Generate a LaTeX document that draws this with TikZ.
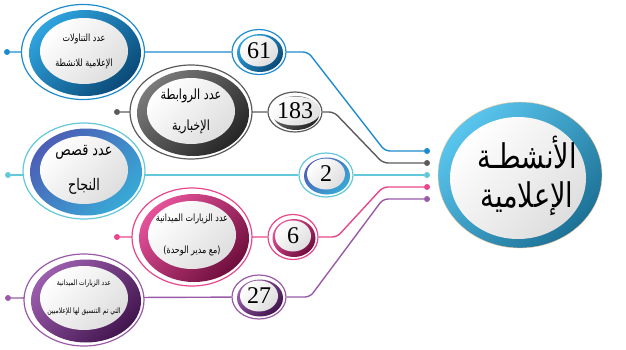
\documentclass[tikz,border=0pt]{standalone}
\usepackage{fontspec}
\setmainfont{Liberation Serif}
\newfontfamily\arabicfont[Script=Arabic, FakeStretch=0.8]{DejaVu Sans}
\TeXXeTstate=1
\usetikzlibrary{shapes.geometric,backgrounds}
\definecolor{blueA}{HTML}{1E8BCF}
\definecolor{blueB}{HTML}{2FA3DE}
\definecolor{blueC}{HTML}{0A4A78}
\definecolor{grayA}{HTML}{5E5A5C}
\definecolor{grayB}{HTML}{7A7A7A}
\definecolor{grayC}{HTML}{262626}
\definecolor{tealA}{HTML}{63C8DA}
\definecolor{tealB}{HTML}{4C5FB6}
\definecolor{tealC}{HTML}{38A9D6}
\definecolor{pinkA}{HTML}{E9468B}
\definecolor{pinkB}{HTML}{E5529A}
\definecolor{pinkC}{HTML}{6E0E3C}
\definecolor{purpA}{HTML}{9A5AA8}
\definecolor{purpB}{HTML}{9C5EAE}
\definecolor{purpC}{HTML}{42154E}
\definecolor{mainA}{HTML}{5AC6EE}
\definecolor{mainB}{HTML}{1D7196}
\tikzset{
  outring/.style={ellipse, draw=#1, line width=1.2pt, fill=white, inner sep=0pt},
  colring/.style 2 args={ellipse, top color=#1, bottom color=#2, shading angle=45, inner sep=0pt},
  whitecore/.style={ellipse, top color=white, bottom color=black!13, shading angle=45, inner sep=0pt},
  label/.style={align=center, inner sep=0pt},
  enddot/.style={circle, fill=#1, inner sep=0pt, minimum size=6pt},
  wire/.style={draw=#1, line width=1.4pt, rounded corners=5pt},
  num/.style={font=\fontsize{24}{24}\selectfont},
}
\begin{document}
\begin{tikzpicture}[x=1pt, y=-1pt]
\useasboundingbox (0,0) rectangle (626,349);

% main bubble
\node[ellipse, draw=orange!40, line width=0.4pt, top color=mainA, bottom color=mainB, shading angle=45, minimum width=164pt, minimum height=146pt] (m) at (520,175) {};
\node[whitecore, minimum width=136pt, minimum height=122pt] (mc) at (518,178) {};
\node[label, font=\arabicfont\fontsize{34}{39}\selectfont] (mt) at (527,176) {\beginR الأنشطـة\endR\\\beginR الإعلامية\endR};

% blue
\node[outring=blueA, minimum width=123pt, minimum height=95pt] (b1) at (83,52) {};
\node[colring={blueB}{blueC}, minimum width=112pt, minimum height=86pt] (b1r) at (85,53) {};
\node[whitecore, minimum width=88pt, minimum height=66pt] (b1c) at (84,51) {};
\node[label, font=\arabicfont\fontsize{10}{25}\selectfont] (b1t) at (b1c) {\beginR عدد التناولات\endR\\\beginR الإعلامية للانشطة\endR};
\node[outring=blueA, minimum width=54pt, minimum height=45pt] (n1) at (259,52) {};
\node[colring={blueB}{blueC}, minimum width=46pt, minimum height=38pt] (n1r) at (260,53) {};
\node[whitecore, minimum width=38pt, minimum height=31pt, num] (n1t) at (259,51) {61};
\node[enddot=blueA] (d1) at (7,52) {};
\node[enddot=blueA] (e1) at (427,151) {};

% gray
\node[outring=grayA, minimum width=122pt, minimum height=94pt] (b2) at (191,112) {};
\node[colring={grayB}{grayC}, minimum width=112pt, minimum height=86pt] (b2r) at (193,113) {};
\node[whitecore, minimum width=88pt, minimum height=66pt] (b2c) at (191,111) {};
\node[label, font=\arabicfont\fontsize{14}{31}\selectfont] (b2t) at (b2c) {\beginR عدد الروابطة\endR\\\beginR الإخبارية\endR};
\node[outring=grayA, minimum width=54pt, minimum height=40pt] (n2) at (295,112) {};
\node[colring={grayB}{grayC}, minimum width=47pt, minimum height=34pt] (n2r) at (296,113) {};
\node[whitecore, minimum width=42pt, minimum height=29pt, num] (n2t) at (295,111) {183};
\node[enddot=grayA] (d2) at (117,112) {};
\node[enddot=grayA] (e2) at (427,163) {};

% teal
\node[outring=tealA, minimum width=122pt, minimum height=96pt] (b3) at (84,171) {};
\node[colring={tealB}{tealC}, minimum width=112pt, minimum height=87pt] (b3r) at (86,172) {};
\node[whitecore, minimum width=88pt, minimum height=68pt] (b3c) at (84,170) {};
\node[label, font=\arabicfont\fontsize{16}{35}\selectfont] (b3t) at (b3c) {\beginR عدد قصص\endR\\\beginR النجاح\endR};
\node[outring=tealA, minimum width=54pt, minimum height=44pt] (n3) at (326,175) {};
\node[colring={tealB}{tealC}, minimum width=46pt, minimum height=37pt] (n3r) at (327,176) {};
\node[whitecore, minimum width=38pt, minimum height=31pt, num] (n3t) at (326,174) {2};
\node[enddot=tealA] (d3) at (8,175) {};
\node[enddot=tealA] (e3) at (427,175) {};

% pink
\node[outring=pinkA, minimum width=120pt, minimum height=98pt] (b4) at (192,237) {};
\node[colring={pinkB}{pinkC}, minimum width=110pt, minimum height=88pt] (b4r) at (194,238) {};
\node[whitecore, minimum width=88pt, minimum height=68pt] (b4c) at (192,235) {};
\node[label, font=\arabicfont\fontsize{10}{32}\selectfont] (b4t) at (b4c) {\beginR عدد الزيارات الميدانية\endR\\\beginR (مع مدير الوحدة)\endR};
\node[outring=pinkA, minimum width=50pt, minimum height=45pt] (n4) at (293,237) {};
\node[colring={pinkB}{pinkC}, minimum width=43pt, minimum height=38pt] (n4r) at (294,238) {};
\node[whitecore, minimum width=36pt, minimum height=31pt, num] (n4t) at (293,236) {6};
\node[enddot=pinkA] (d4) at (117,237) {};
\node[enddot=pinkA] (e4) at (427,187) {};

% purple
\node[outring=purpA, minimum width=120pt, minimum height=92pt] (b5) at (84,300) {};
\node[colring={purpB}{purpC}, minimum width=110pt, minimum height=83pt] (b5r) at (86,301) {};
\node[whitecore, minimum width=88pt, minimum height=64pt] (b5c) at (84,298) {};
\node[label, font=\arabicfont\fontsize{7.5}{28}\selectfont] (b5t) at (b5c) {\beginR عدد الزيارات الميدانية\endR\\\beginR التي تم التنسيق لها للإعلاميين\endR};
\node[outring=purpA, minimum width=54pt, minimum height=44pt] (n5) at (259,297) {};
\node[colring={purpB}{purpC}, minimum width=46pt, minimum height=37pt] (n5r) at (260,298) {};
\node[whitecore, minimum width=38pt, minimum height=31pt, num] (n5t) at (259,296) {27};
\node[enddot=purpA] (d5) at (8,298) {};
\node[enddot=purpA] (e5) at (427,199) {};

\begin{pgfonlayer}{background}
\draw[wire=blueA] (d1) -- (n1) -- ++(49,0) -- ([xshift=-42pt]e1.center) -- (e1);
\draw[wire=grayA] (d2) -- (n2) -- ++(39,0) -- ([xshift=-44pt]e2.center) -- (e2);
\draw[wire=tealA] (d3) -- (n3) -- (e3);
\draw[wire=pinkA] (d4) -- (n4) -- ++(44,0) -- ([xshift=-44pt]e4.center) -- (e4);
\draw[wire=purpA] (d5) -- (n5) -- ++(51,0) -- ([xshift=-44pt]e5.center) -- (e5);
\end{pgfonlayer}
\end{tikzpicture}
\end{document}
